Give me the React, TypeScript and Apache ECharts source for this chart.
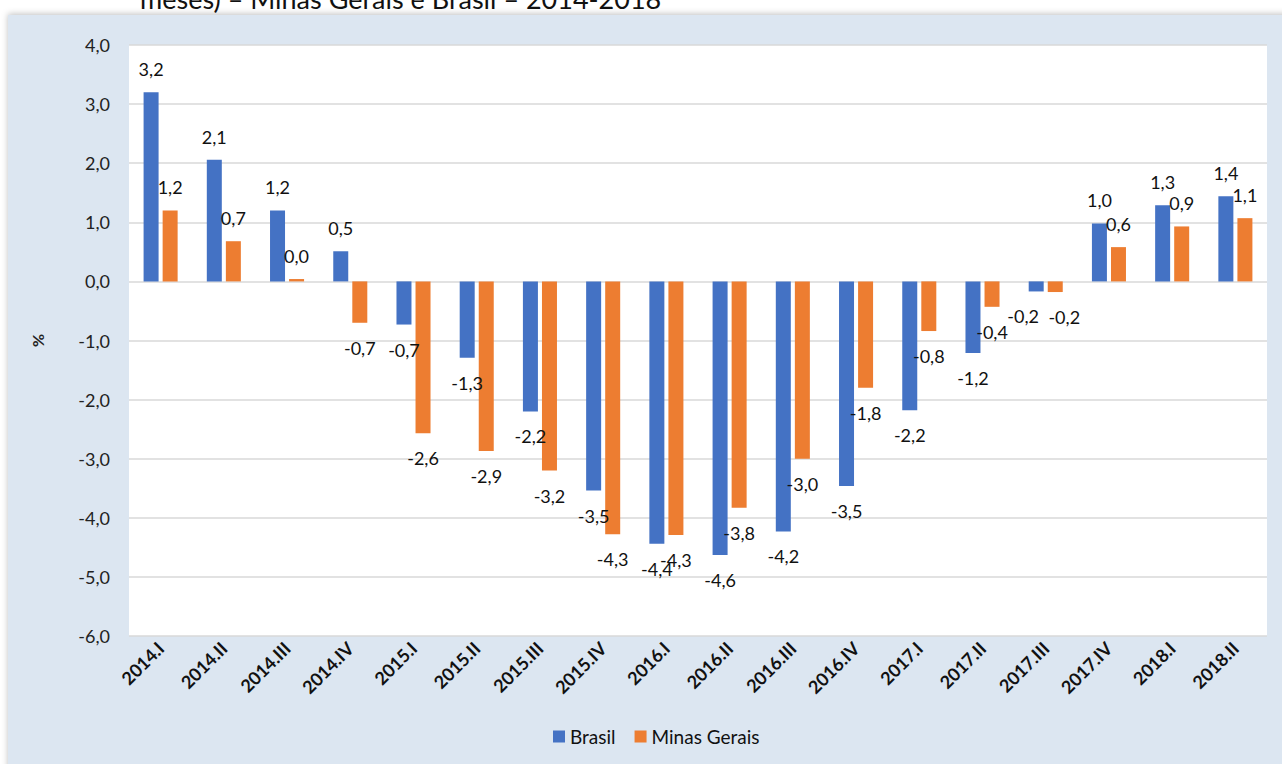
import React, { useEffect, useRef } from "react";
import * as echarts from "echarts";

const categories = [
  "2014.I", "2014.II", "2014.III", "2014.IV",
  "2015.I", "2015.II", "2015.III", "2015.IV",
  "2016.I", "2016.II", "2016.III", "2016.IV",
  "2017.I", "2017.II", "2017.III", "2017.IV",
  "2018.I", "2018.II",
];

const brasil = [3.2, 2.06, 1.2, 0.51, -0.73, -1.29, -2.2, -3.54, -4.44, -4.63, -4.23, -3.46, -2.18, -1.21, -0.17, 0.98, 1.29, 1.44];
const minasGerais = [1.2, 0.68, 0.04, -0.7, -2.57, -2.87, -3.2, -4.28, -4.29, -3.83, -3.0, -1.8, -0.84, -0.43, -0.18, 0.58, 0.93, 1.07];

const seriesNames = ["Brasil", "Minas Gerais"];
const titleText = "meses) – Minas Gerais e Brasil – 2014-2018";

// horizontal label nudges (as the source chart spreads two close labels)
const brasilLabelShift: Record<number, number> = { 14: -13 };
const minasLabelShift: Record<number, number> = { 14: 9 };

const FONT = "Lato, 'Noto Sans', sans-serif";
const fmt = (v: number) => v.toFixed(1).replace(".", ",").replace("-0,0", "0,0");

function buildData(values: number[], shifts: Record<number, number>) {
  return values.map((v, i) => ({
    value: v,
    label: {
      position: v >= 0 ? "top" : "bottom",
      distance: v >= 0 ? 14 : 16,
      offset: [shifts[i] || 0, 0],
    },
  }));
}

export default function App() {
  const ref = useRef<HTMLDivElement>(null);
  useEffect(() => {
    if (!ref.current) return;
    const chart = echarts.init(ref.current, undefined, { renderer: "svg" });
    const labelCommon = {
      show: true,
      fontFamily: FONT,
      fontSize: 18,
      color: "#111",
      formatter: (p: any) => fmt(p.value),
    };
    chart.setOption({
      animation: false,
      backgroundColor: "#ffffff",
      textStyle: { fontFamily: FONT },
      graphic: [
        {
          type: "rect",
          z: -10,
          shape: { x: 8, y: 15, width: 1290, height: 760 },
          style: {
            fill: "#dce6f1",
            shadowBlur: 6,
            shadowColor: "rgba(0,0,0,0.25)",
            shadowOffsetY: -1,
          },
        },
        {
          type: "text",
          x: 140,
          y: -15,
          z: 10,
          style: {
            text: titleText,
            fontFamily: FONT,
            fontSize: 27,
            fill: "#111",
            verticalAlign: "top",
          },
        },
      ],
      grid: {
        left: 129,
        right: 15,
        top: 45,
        bottom: 128,
        show: true,
        backgroundColor: "#ffffff",
        borderWidth: 0,
      },
      legend: {
        data: seriesNames,
        left: 548,
        top: 722,
        itemWidth: 12,
        itemHeight: 12,
        itemGap: 19,
        icon: "rect",
        textStyle: { fontFamily: FONT, fontSize: 19, color: "#111" },
      },
      xAxis: {
        type: "category",
        data: categories,
        axisLine: { show: false },
        axisTick: { show: false },
        axisLabel: {
          interval: 0,
          rotate: 45,
          margin: 9,
          fontFamily: FONT,
          fontWeight: "bold",
          fontSize: 18,
          color: "#111",
        },
      },
      yAxis: {
        type: "value",
        min: -6,
        max: 4,
        interval: 1,
        name: "%",
        nameLocation: "middle",
        nameRotate: 90,
        nameGap: 84,
        nameTextStyle: { fontFamily: FONT, fontSize: 16, fontWeight: "bold", color: "#222" },
        axisLine: { show: false },
        axisTick: { show: false },
        axisLabel: {
          margin: 19,
          fontFamily: FONT,
          fontSize: 18,
          color: "#222",
          formatter: (v: number) => fmt(v),
        },
        splitLine: { lineStyle: { color: "#d9d9d9", width: 1.5 } },
      },
      series: [
        {
          name: seriesNames[0],
          type: "bar",
          data: buildData(brasil, brasilLabelShift),
          barWidth: 15,
          barGap: "27%",
          itemStyle: { color: "#4472c4" },
          label: labelCommon,
        },
        {
          name: seriesNames[1],
          type: "bar",
          data: buildData(minasGerais, minasLabelShift),
          barWidth: 15,
          barGap: "27%",
          itemStyle: { color: "#ed7d31" },
          label: labelCommon,
        },
      ],
    });
    return () => chart.dispose();
  }, []);
  return (
    <div
      ref={ref}
      style={{ position: "fixed", left: 0, top: 0, width: 1282, height: 764 }}
    />
  );
}
